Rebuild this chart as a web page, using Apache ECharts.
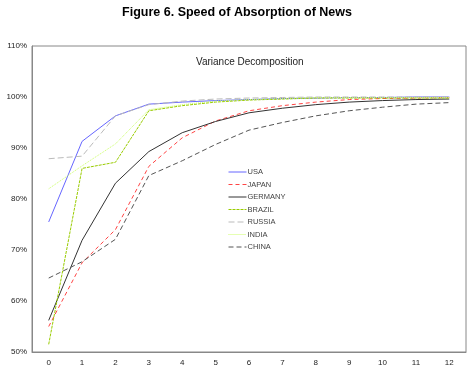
<!DOCTYPE html>
<html>
<head>
<meta charset="utf-8">
<script src="https://cdn.jsdelivr.net/npm/echarts@6/dist/echarts.min.js"></script>
<style>
  html, body { margin: 0; padding: 0; background: #fff; }
  #chart { width: 474px; height: 377px; }
</style>
</head>
<body>
<div id="chart"></div>
<script>
// ===== Data =====
const horizons = ['0', '1', '2', '3', '4', '5', '6', '7', '8', '9', '10', '11', '12'];

const usa     = [75.5, 91.3, 96.3, 98.6, 99.0, 99.3, 99.5, 99.7, 99.8, 99.9, 99.9, 100, 100];
const japan   = [55.0, 67.5, 74.0, 86.4, 92.0, 95.3, 97.3, 98.3, 99.0, 99.5, 99.7, 99.8, 99.9];
const germany = [56.2, 71.9, 83.1, 89.3, 93.0, 95.2, 96.9, 97.8, 98.5, 99.0, 99.3, 99.5, 99.6];
const brazil  = [51.5, 86.0, 87.2, 97.3, 98.3, 99.0, 99.4, 99.6, 99.8, 99.8, 99.8, 99.8, 99.8];
const russia  = [87.9, 88.4, 96.3, 98.5, 99.2, 99.6, 99.8, 99.9, 100, 100, 100, 100, 100];
const india   = [82.0, 86.5, 90.8, 97.5, 98.5, 99.2, 99.5, 99.7, 99.9, 99.9, 99.9, 99.9, 99.9];
const china   = [64.5, 67.7, 72.1, 84.6, 87.5, 90.7, 93.5, 95.0, 96.3, 97.3, 98.0, 98.6, 98.9];

const yTicks = [50, 60, 70, 80, 90, 100, 110];

const chart = echarts.init(document.getElementById('chart'));

// one line series per country
function line(name, data, color, type) {
  return {
    name: name,
    type: 'line',
    data: data,
    symbol: 'none',
    lineStyle: { color: color, width: 1, type: type },
    itemStyle: { color: color }
  };
}

const option = {
  backgroundColor: '#fff',
  animation: false,
  title: [
    {
      text: 'Figure 6. Speed of Absorption of News',
      left: 'center',
      top: 1,
      textStyle: { fontFamily: 'Liberation Sans', fontSize: 12.5, fontWeight: 'bold', color: '#000' }
    },
    {
      text: 'Variance Decomposition',
      left: 191,
      top: 52,
      textStyle: { fontFamily: 'Liberation Sans', fontSize: 10, fontWeight: 'normal', color: '#222' }
    }
  ],
  legend: {
    orient: 'vertical',
    left: 228,
    top: 168,
    padding: 0,
    itemWidth: 18,
    itemHeight: 8,
    itemGap: 4.5,
    // hide the circle the line legend icon draws, keep the line
    itemStyle: { opacity: 0 },
    lineStyle: { width: 1 },
    textStyle: { fontFamily: 'Liberation Sans', fontSize: 7.5, color: '#444', padding: [0, 0, 0, -4] },
    data: ['USA', 'JAPAN', 'GERMANY', 'BRAZIL', 'RUSSIA', 'INDIA', 'CHINA']
  },
  grid: { left: 32, right: 8, top: 46, bottom: 25, show: true, borderColor: '#888', borderWidth: 1 },
  xAxis: {
    type: 'category',
    data: horizons,
    boundaryGap: true,
    axisLine: { lineStyle: { color: '#888' } },
    axisTick: { inside: true, length: 3, lineStyle: { color: '#888' } },
    axisLabel: { fontFamily: 'Liberation Sans', fontSize: 8, color: '#222', margin: 7 }
  },
  yAxis: {
    type: 'value',
    min: yTicks[0],
    max: yTicks[yTicks.length - 1],
    interval: 10,
    splitLine: { show: false },
    axisLine: { show: true, lineStyle: { color: '#888' } },
    axisTick: { show: false },
    axisLabel: { fontFamily: 'Liberation Sans', fontSize: 8, color: '#222', margin: 5, formatter: '{value}%' }
  },
  series: [
    line('USA', usa, '#6666ff', 'solid'),
    line('JAPAN', japan, '#ff4444', [4, 3]),
    line('GERMANY', germany, '#333333', 'solid'),
    line('BRAZIL', brazil, '#99cc00', [3, 1]),
    line('RUSSIA', russia, '#bbbbbb', [6, 3]),
    line('INDIA', india, '#ccff66', [1, 1]),
    line('CHINA', china, '#555555', [5, 3])
  ]
};

chart.setOption(option);
</script>
</body>
</html>
